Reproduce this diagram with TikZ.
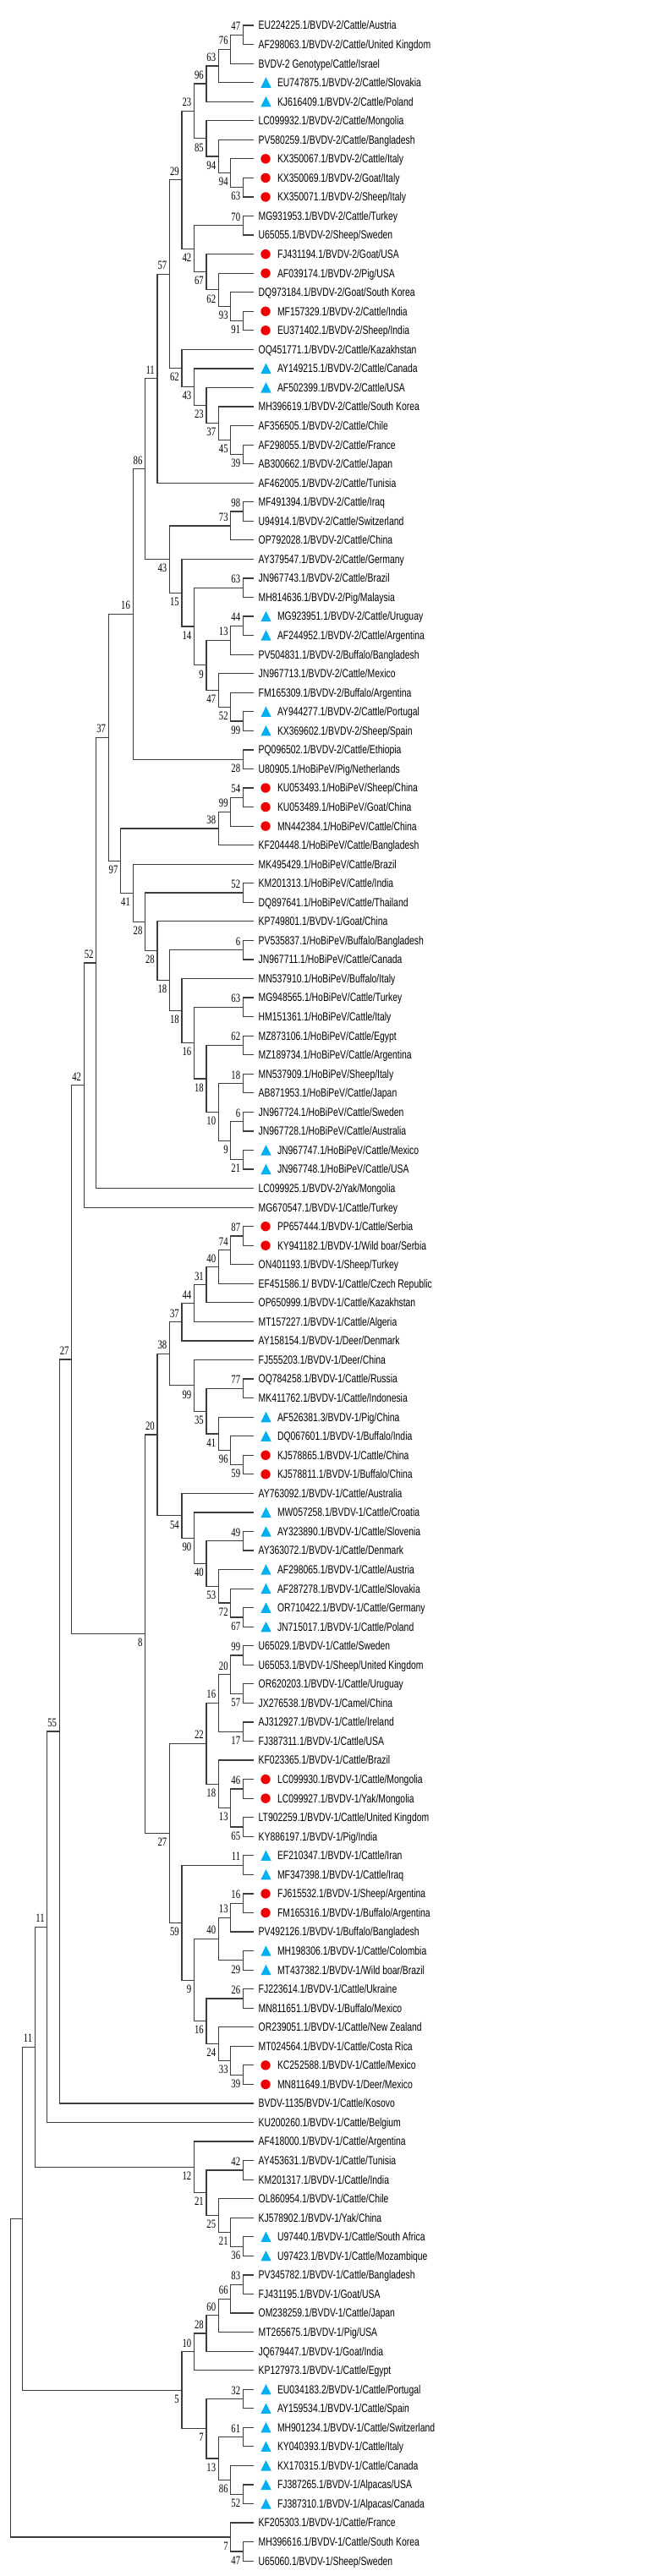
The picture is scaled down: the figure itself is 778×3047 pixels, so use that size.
\documentclass[tikz,border=0pt]{standalone}
\usepackage{fontspec}
\usepackage{graphicx}
\usetikzlibrary{calc}
\newfontfamily\lsans{Liberation Sans}
\newfontfamily\lserif{Liberation Serif}
\newcommand\sxy[1]{\scalebox{1}[1.34]{#1}}
\definecolor{brc}{RGB}{60,60,60}
\definecolor{tric}{RGB}{0,176,240}
\definecolor{dotred}{RGB}{240,0,0}
\tikzset{
 br/.style={draw=brc, line width=1.2pt},
 lab/.style={anchor=base west, inner sep=0pt, font=\lsans\fontsize{10.4}{12}\selectfont},
 bs/.style={anchor=base east, inner sep=0pt, font=\lserif\fontsize{10.7}{12}\selectfont, xshift=-3pt},
 bu/.style={yshift=5.5pt},
 bl/.style={yshift=-15.2pt},
 dotc/.style={circle, fill=dotred, inner sep=0pt, minimum size=11.4pt},
}
\newcommand\lfn[2]{\path (300,{30+(#1-1)*22.55}) coordinate (p#1);
  \node[lab] (t#1) at ([xshift=5.5pt,yshift=-4.9pt]p#1) {\sxy{#2}};}
\newcommand\lft[2]{\path (300,{30+(#1-1)*22.55}) coordinate (p#1);
  \path ([xshift=14.5pt]p#1) coordinate (s#1);
  \fill[tric] ([shift={(-6.2pt,-6.1pt)}]s#1) -- ([shift={(6.2pt,-6.1pt)}]s#1) -- ([shift={(0pt,6.2pt)}]s#1) -- cycle;
  \node[lab] (t#1) at ([xshift=27.8pt,yshift=-4.9pt]p#1) {\sxy{#2}};}
\newcommand\lfc[2]{\path (300,{30+(#1-1)*22.55}) coordinate (p#1);
  \node[dotc] (s#1) at ([xshift=14pt]p#1) {};
  \node[lab] (t#1) at ([xshift=27.8pt,yshift=-4.9pt]p#1) {\sxy{#2}};}
\newcommand\nd[6]{\path let \p1=(#3),\p2=(#4) in ({(301.8-14.47*#2)*1pt},{0.5*(\y1)+0.5*(\y2)}) coordinate (#1);
  \draw[br] (#3) -| (#1) |- (#4);
  \node[bs,#6] (b#1) at (#1) {\sxy{#5}};}
\newcommand\ndx[4]{\path let \p1=(#3),\p2=(#4) in ({(301.8-14.47*#2)*1pt},{0.5*(\y1)+0.5*(\y2)}) coordinate (#1);
  \draw[br] (#3) -| (#1) |- (#4);}
\begin{document}
\begin{tikzpicture}[x=1pt,y=-1pt]
\fill[white] (0,0) rectangle (778,3047);
\useasboundingbox (0,0) rectangle (778,3047);
% leaves
\lfn{1}{EU224225.1/BVDV-2/Cattle/Austria}
\lfn{2}{AF298063.1/BVDV-2/Cattle/United Kingdom}
\lfn{3}{BVDV-2 Genotype/Cattle/Israel}
\lft{4}{EU747875.1/BVDV-2/Cattle/Slovakia}
\lft{5}{KJ616409.1/BVDV-2/Cattle/Poland}
\lfn{6}{LC099932.1/BVDV-2/Cattle/Mongolia}
\lfn{7}{PV580259.1/BVDV-2/Cattle/Bangladesh}
\lfc{8}{KX350067.1/BVDV-2/Cattle/Italy}
\lfc{9}{KX350069.1/BVDV-2/Goat/Italy}
\lfc{10}{KX350071.1/BVDV-2/Sheep/Italy}
\lfn{11}{MG931953.1/BVDV-2/Cattle/Turkey}
\lfn{12}{U65055.1/BVDV-2/Sheep/Sweden}
\lfc{13}{FJ431194.1/BVDV-2/Goat/USA}
\lfc{14}{AF039174.1/BVDV-2/Pig/USA}
\lfn{15}{DQ973184.1/BVDV-2/Goat/South Korea}
\lfc{16}{MF157329.1/BVDV-2/Cattle/India}
\lfc{17}{EU371402.1/BVDV-2/Sheep/India}
\lfn{18}{OQ451771.1/BVDV-2/Cattle/Kazakhstan}
\lft{19}{AY149215.1/BVDV-2/Cattle/Canada}
\lft{20}{AF502399.1/BVDV-2/Cattle/USA}
\lfn{21}{MH396619.1/BVDV-2/Cattle/South Korea}
\lfn{22}{AF356505.1/BVDV-2/Cattle/Chile}
\lfn{23}{AF298055.1/BVDV-2/Cattle/France}
\lfn{24}{AB300662.1/BVDV-2/Cattle/Japan}
\lfn{25}{AF462005.1/BVDV-2/Cattle/Tunisia}
\lfn{26}{MF491394.1/BVDV-2/Cattle/Iraq}
\lfn{27}{U94914.1/BVDV-2/Cattle/Switzerland}
\lfn{28}{OP792028.1/BVDV-2/Cattle/China}
\lfn{29}{AY379547.1/BVDV-2/Cattle/Germany}
\lfn{30}{JN967743.1/BVDV-2/Cattle/Brazil}
\lfn{31}{MH814636.1/BVDV-2/Pig/Malaysia}
\lft{32}{MG923951.1/BVDV-2/Cattle/Uruguay}
\lft{33}{AF244952.1/BVDV-2/Cattle/Argentina}
\lfn{34}{PV504831.1/BVDV-2/Buffalo/Bangladesh}
\lfn{35}{JN967713.1/BVDV-2/Cattle/Mexico}
\lfn{36}{FM165309.1/BVDV-2/Buffalo/Argentina}
\lft{37}{AY944277.1/BVDV-2/Cattle/Portugal}
\lft{38}{KX369602.1/BVDV-2/Sheep/Spain}
\lfn{39}{PQ096502.1/BVDV-2/Cattle/Ethiopia}
\lfn{40}{U80905.1/HoBiPeV/Pig/Netherlands}
\lfc{41}{KU053493.1/HoBiPeV/Sheep/China}
\lfc{42}{KU053489.1/HoBiPeV/Goat/China}
\lfc{43}{MN442384.1/HoBiPeV/Cattle/China}
\lfn{44}{KF204448.1/HoBiPeV/Cattle/Bangladesh}
\lfn{45}{MK495429.1/HoBiPeV/Cattle/Brazil}
\lfn{46}{KM201313.1/HoBiPeV/Cattle/India}
\lfn{47}{DQ897641.1/HoBiPeV/Cattle/Thailand}
\lfn{48}{KP749801.1/BVDV-1/Goat/China}
\lfn{49}{PV535837.1/HoBiPeV/Buffalo/Bangladesh}
\lfn{50}{JN967711.1/HoBiPeV/Cattle/Canada}
\lfn{51}{MN537910.1/HoBiPeV/Buffalo/Italy}
\lfn{52}{MG948565.1/HoBiPeV/Cattle/Turkey}
\lfn{53}{HM151361.1/HoBiPeV/Cattle/Italy}
\lfn{54}{MZ873106.1/HoBiPeV/Cattle/Egypt}
\lfn{55}{MZ189734.1/HoBiPeV/Cattle/Argentina}
\lfn{56}{MN537909.1/HoBiPeV/Sheep/Italy}
\lfn{57}{AB871953.1/HoBiPeV/Cattle/Japan}
\lfn{58}{JN967724.1/HoBiPeV/Cattle/Sweden}
\lfn{59}{JN967728.1/HoBiPeV/Cattle/Australia}
\lft{60}{JN967747.1/HoBiPeV/Cattle/Mexico}
\lft{61}{JN967748.1/HoBiPeV/Cattle/USA}
\lfn{62}{LC099925.1/BVDV-2/Yak/Mongolia}
\lfn{63}{MG670547.1/BVDV-1/Cattle/Turkey}
\lfc{64}{PP657444.1/BVDV-1/Cattle/Serbia}
\lfc{65}{KY941182.1/BVDV-1/Wild boar/Serbia}
\lfn{66}{ON401193.1/BVDV-1/Sheep/Turkey}
\lfn{67}{EF451586.1/ BVDV-1/Cattle/Czech Republic}
\lfn{68}{OP650999.1/BVDV-1/Cattle/Kazakhstan}
\lfn{69}{MT157227.1/BVDV-1/Cattle/Algeria}
\lfn{70}{AY158154.1/BVDV-1/Deer/Denmark}
\lfn{71}{FJ555203.1/BVDV-1/Deer/China}
\lfn{72}{OQ784258.1/BVDV-1/Cattle/Russia}
\lfn{73}{MK411762.1/BVDV-1/Cattle/Indonesia}
\lft{74}{AF526381.3/BVDV-1/Pig/China}
\lft{75}{DQ067601.1/BVDV-1/Buffalo/India}
\lfc{76}{KJ578865.1/BVDV-1/Cattle/China}
\lfc{77}{KJ578811.1/BVDV-1/Buffalo/China}
\lfn{78}{AY763092.1/BVDV-1/Cattle/Australia}
\lft{79}{MW057258.1/BVDV-1/Cattle/Croatia}
\lft{80}{AY323890.1/BVDV-1/Cattle/Slovenia}
\lfn{81}{AY363072.1/BVDV-1/Cattle/Denmark}
\lft{82}{AF298065.1/BVDV-1/Cattle/Austria}
\lft{83}{AF287278.1/BVDV-1/Cattle/Slovakia}
\lft{84}{OR710422.1/BVDV-1/Cattle/Germany}
\lft{85}{JN715017.1/BVDV-1/Cattle/Poland}
\lfn{86}{U65029.1/BVDV-1/Cattle/Sweden}
\lfn{87}{U65053.1/BVDV-1/Sheep/United Kingdom}
\lfn{88}{OR620203.1/BVDV-1/Cattle/Uruguay}
\lfn{89}{JX276538.1/BVDV-1/Camel/China}
\lfn{90}{AJ312927.1/BVDV-1/Cattle/Ireland}
\lfn{91}{FJ387311.1/BVDV-1/Cattle/USA}
\lfn{92}{KF023365.1/BVDV-1/Cattle/Brazil}
\lfc{93}{LC099930.1/BVDV-1/Cattle/Mongolia}
\lfc{94}{LC099927.1/BVDV-1/Yak/Mongolia}
\lfn{95}{LT902259.1/BVDV-1/Cattle/United Kingdom}
\lfn{96}{KY886197.1/BVDV-1/Pig/India}
\lft{97}{EF210347.1/BVDV-1/Cattle/Iran}
\lft{98}{MF347398.1/BVDV-1/Cattle/Iraq}
\lfc{99}{FJ615532.1/BVDV-1/Sheep/Argentina}
\lfc{100}{FM165316.1/BVDV-1/Buffalo/Argentina}
\lfn{101}{PV492126.1/BVDV-1/Buffalo/Bangladesh}
\lft{102}{MH198306.1/BVDV-1/Cattle/Colombia}
\lft{103}{MT437382.1/BVDV-1/Wild boar/Brazil}
\lfn{104}{FJ223614.1/BVDV-1/Cattle/Ukraine}
\lfn{105}{MN811651.1/BVDV-1/Buffalo/Mexico}
\lfn{106}{OR239051.1/BVDV-1/Cattle/New Zealand}
\lfn{107}{MT024564.1/BVDV-1/Cattle/Costa Rica}
\lfc{108}{KC252588.1/BVDV-1/Cattle/Mexico}
\lfc{109}{MN811649.1/BVDV-1/Deer/Mexico}
\lfn{110}{BVDV-1135/BVDV-1/Cattle/Kosovo}
\lfn{111}{KU200260.1/BVDV-1/Cattle/Belgium}
\lfn{112}{AF418000.1/BVDV-1/Cattle/Argentina}
\lfn{113}{AY453631.1/BVDV-1/Cattle/Tunisia}
\lfn{114}{KM201317.1/BVDV-1/Cattle/India}
\lfn{115}{OL860954.1/BVDV-1/Cattle/Chile}
\lfn{116}{KJ578902.1/BVDV-1/Yak/China}
\lft{117}{U97440.1/BVDV-1/Cattle/South Africa}
\lft{118}{U97423.1/BVDV-1/Cattle/Mozambique}
\lfn{119}{PV345782.1/BVDV-1/Cattle/Bangladesh}
\lfn{120}{FJ431195.1/BVDV-1/Goat/USA}
\lfn{121}{OM238259.1/BVDV-1/Cattle/Japan}
\lfn{122}{MT265675.1/BVDV-1/Pig/USA}
\lfn{123}{JQ679447.1/BVDV-1/Goat/India}
\lfn{124}{KP127973.1/BVDV-1/Cattle/Egypt}
\lft{125}{EU034183.2/BVDV-1/Cattle/Portugal}
\lft{126}{AY159534.1/BVDV-1/Cattle/Spain}
\lft{127}{MH901234.1/BVDV-1/Cattle/Switzerland}
\lft{128}{KY040393.1/BVDV-1/Cattle/Italy}
\lft{129}{KX170315.1/BVDV-1/Cattle/Canada}
\lft{130}{FJ387265.1/BVDV-1/Alpacas/USA}
\lft{131}{FJ387310.1/BVDV-1/Alpacas/Canada}
\lfn{132}{KF205303.1/BVDV-1/Cattle/France}
\lfn{133}{MH396616.1/BVDV-1/Cattle/South Korea}
\lfn{134}{U65060.1/BVDV-1/Sheep/Sweden}
% internal nodes
\nd{n1}{1}{p1}{p2}{47}{bu}
\nd{n2}{2}{n1}{p3}{76}{bu}
\nd{n3}{3}{n2}{p4}{63}{bu}
\nd{n4}{4}{n3}{p5}{96}{bu}
\nd{n5}{1}{p9}{p10}{63}{bl}
\nd{n6}{2}{p8}{n5}{94}{bl}
\nd{n7}{3}{p7}{n6}{94}{bl}
\nd{n8}{4}{p6}{n7}{85}{bl}
\nd{n9}{5}{n4}{n8}{23}{bu}
\nd{n10}{1}{p11}{p12}{70}{bu}
\nd{n11}{1}{p16}{p17}{91}{bl}
\nd{n12}{2}{p15}{n11}{93}{bl}
\nd{n13}{3}{p14}{n12}{62}{bl}
\nd{n14}{4}{p13}{n13}{67}{bl}
\nd{n15}{5}{n10}{n14}{42}{bl}
\nd{n16}{6}{n9}{n15}{29}{bu}
\nd{n17}{1}{p23}{p24}{39}{bl}
\nd{n18}{2}{p22}{n17}{45}{bl}
\nd{n19}{3}{p21}{n18}{37}{bl}
\nd{n20}{4}{p20}{n19}{23}{bl}
\nd{n21}{5}{p19}{n20}{43}{bl}
\nd{n22}{6}{p18}{n21}{62}{bl}
\nd{n23}{7}{n16}{n22}{57}{bu}
\nd{n24}{8}{n23}{p25}{11}{bu}
\nd{n25}{1}{p26}{p27}{98}{bu}
\nd{n26}{2}{n25}{p28}{73}{bu}
\nd{n27}{1}{p30}{p31}{63}{bu}
\nd{n28}{1}{p32}{p33}{44}{bu}
\nd{n29}{2}{n28}{p34}{13}{bu}
\nd{n30}{1}{p37}{p38}{99}{bl}
\nd{n31}{2}{p36}{n30}{52}{bl}
\nd{n32}{3}{p35}{n31}{47}{bl}
\nd{n33}{4}{n29}{n32}{9}{bl}
\nd{n34}{5}{n27}{n33}{14}{bl}
\nd{n35}{6}{p29}{n34}{15}{bl}
\nd{n36}{7}{n26}{n35}{43}{bl}
\nd{n37}{9}{n24}{n36}{86}{bu}
\nd{n38}{1}{p39}{p40}{28}{bl}
\nd{n39}{10}{n37}{n38}{16}{bu}
\nd{n40}{1}{p41}{p42}{54}{bu}
\nd{n41}{2}{n40}{p43}{99}{bu}
\nd{n42}{3}{n41}{p44}{38}{bu}
\nd{n43}{1}{p46}{p47}{52}{bu}
\nd{n44}{1}{p49}{p50}{6}{bu}
\nd{n45}{1}{p52}{p53}{63}{bu}
\nd{n46}{1}{p54}{p55}{62}{bu}
\nd{n47}{1}{p56}{p57}{18}{bu}
\nd{n48}{1}{p58}{p59}{6}{bu}
\nd{n49}{1}{p60}{p61}{21}{bl}
\nd{n50}{2}{n48}{n49}{9}{bl}
\nd{n51}{3}{n47}{n50}{10}{bl}
\nd{n52}{4}{n46}{n51}{18}{bl}
\nd{n53}{5}{n45}{n52}{16}{bl}
\nd{n54}{6}{p51}{n53}{18}{bl}
\nd{n55}{7}{n44}{n54}{18}{bl}
\nd{n56}{8}{p48}{n55}{28}{bl}
\nd{n57}{9}{n43}{n56}{28}{bl}
\nd{n58}{10}{p45}{n57}{41}{bl}
\nd{n59}{11}{n42}{n58}{97}{bl}
\nd{n60}{12}{n39}{n59}{37}{bu}
\nd{n61}{13}{n60}{p62}{52}{bu}
\nd{n62}{14}{n61}{p63}{42}{bu}
\nd{n63}{1}{p64}{p65}{87}{bu}
\nd{n64}{2}{n63}{p66}{74}{bu}
\nd{n65}{3}{n64}{p67}{40}{bu}
\nd{n66}{4}{n65}{p68}{31}{bu}
\nd{n67}{5}{n66}{p69}{44}{bu}
\nd{n68}{6}{n67}{p70}{37}{bu}
\nd{n69}{1}{p72}{p73}{77}{bu}
\nd{n70}{1}{p76}{p77}{59}{bl}
\nd{n71}{2}{p75}{n70}{96}{bl}
\nd{n72}{3}{p74}{n71}{41}{bl}
\nd{n73}{4}{n69}{n72}{35}{bl}
\nd{n74}{5}{p71}{n73}{99}{bl}
\nd{n75}{7}{n68}{n74}{38}{bu}
\nd{n76}{1}{p80}{p81}{49}{bu}
\nd{n77}{1}{p84}{p85}{67}{bl}
\nd{n78}{2}{p83}{n77}{72}{bl}
\nd{n79}{3}{p82}{n78}{53}{bl}
\nd{n80}{4}{n76}{n79}{40}{bl}
\nd{n81}{5}{p79}{n80}{90}{bl}
\nd{n82}{6}{p78}{n81}{54}{bl}
\nd{n83}{8}{n75}{n82}{20}{bu}
\nd{n84}{1}{p86}{p87}{99}{bu}
\nd{n85}{1}{p88}{p89}{57}{bl}
\nd{n86}{2}{n84}{n85}{20}{bu}
\nd{n87}{1}{p90}{p91}{17}{bl}
\nd{n88}{3}{n86}{n87}{16}{bu}
\nd{n89}{1}{p93}{p94}{46}{bu}
\nd{n90}{1}{p95}{p96}{65}{bl}
\nd{n91}{2}{n89}{n90}{13}{bl}
\nd{n92}{3}{p92}{n91}{18}{bl}
\nd{n93}{4}{n88}{n92}{22}{bu}
\nd{n94}{1}{p97}{p98}{11}{bu}
\nd{n95}{1}{p99}{p100}{16}{bu}
\nd{n96}{2}{n95}{p101}{13}{bu}
\nd{n97}{1}{p102}{p103}{29}{bl}
\nd{n98}{3}{n96}{n97}{40}{bu}
\nd{n99}{1}{p104}{p105}{26}{bu}
\nd{n100}{1}{p108}{p109}{39}{bl}
\nd{n101}{2}{p107}{n100}{33}{bl}
\nd{n102}{3}{p106}{n101}{24}{bl}
\nd{n103}{4}{n99}{n102}{16}{bl}
\nd{n104}{5}{n98}{n103}{9}{bl}
\nd{n105}{6}{n94}{n104}{59}{bl}
\nd{n106}{7}{n93}{n105}{27}{bl}
\nd{n107}{9}{n83}{n106}{8}{bl}
\nd{n108}{15}{n62}{n107}{27}{bu}
\nd{n109}{16}{n108}{p110}{55}{bu}
\nd{n110}{17}{n109}{p111}{11}{bu}
\nd{n111}{1}{p113}{p114}{42}{bu}
\nd{n112}{1}{p117}{p118}{36}{bl}
\nd{n113}{2}{p116}{n112}{21}{bl}
\nd{n114}{3}{p115}{n113}{25}{bl}
\nd{n115}{4}{n111}{n114}{21}{bl}
\nd{n116}{5}{p112}{n115}{12}{bl}
\nd{n117}{18}{n110}{n116}{11}{bu}
\nd{n118}{1}{p119}{p120}{83}{bu}
\nd{n119}{2}{n118}{p121}{66}{bu}
\nd{n120}{3}{n119}{p122}{60}{bu}
\nd{n121}{4}{n120}{p123}{28}{bu}
\nd{n122}{5}{n121}{p124}{10}{bu}
\nd{n123}{1}{p125}{p126}{32}{bu}
\nd{n124}{1}{p127}{p128}{61}{bu}
\nd{n125}{1}{p130}{p131}{52}{bl}
\nd{n126}{2}{p129}{n125}{86}{bl}
\nd{n127}{3}{n124}{n126}{13}{bl}
\nd{n128}{4}{n123}{n127}{7}{bl}
\nd{n129}{6}{n122}{n128}{5}{bl}
\ndx{n130}{19}{n117}{n129}
\nd{n131}{1}{p133}{p134}{47}{bl}
\nd{n132}{2}{p132}{n131}{7}{bl}
\ndx{root}{20}{n130}{n132}
\end{tikzpicture}
\end{document}
